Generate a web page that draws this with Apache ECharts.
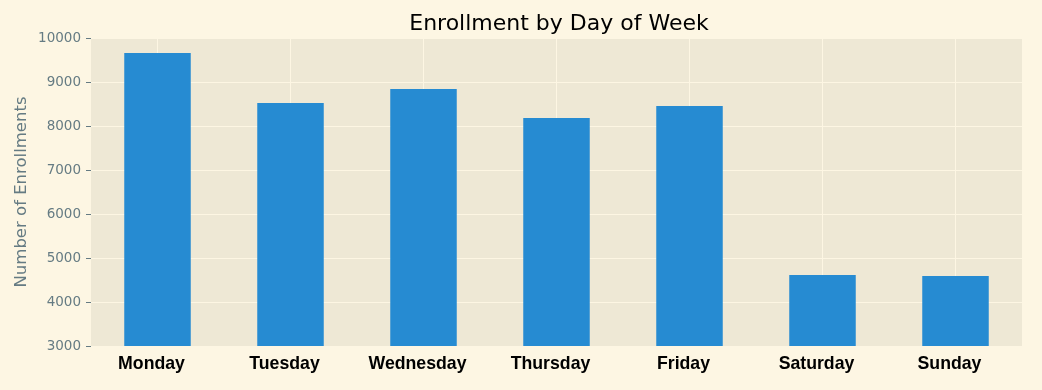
<!DOCTYPE html>
<html>
<head>
<meta charset="utf-8">
<script src="https://cdn.jsdelivr.net/npm/echarts@6/dist/echarts.min.js"></script>
<style>
html,body{margin:0;padding:0;background:#fdf6e3;}
#c{width:1042px;height:390px;}
</style>
</head>
<body>
<div id="c"></div>
<script>
const days = ['Monday','Tuesday','Wednesday','Thursday','Friday','Saturday','Sunday'];
const enrollments = [9660, 8520, 8840, 8180, 8455, 4615, 4590];
const yTicks = [3000, 4000, 5000, 6000, 7000, 8000, 9000, 10000];

const chart = echarts.init(document.getElementById('c'), null, {renderer:'canvas'});
chart.setOption({
  backgroundColor: '#fdf6e3',
  animation: false,
  title: {
    text: 'Enrollment by Day of Week',
    left: 554, top: 8, textAlign: 'center',
    textStyle: {fontFamily: 'DejaVu Sans', fontSize: 22, fontWeight: 'normal', color: '#000'}
  },
  grid: {left: 91, right: 20, top: 38, bottom: 44, show: true, backgroundColor: '#eee8d5', borderWidth: 0},
  xAxis: {
    type: 'category',
    data: days,
    axisLine: {show: false},
    axisTick: {show: false},
    axisLabel: {fontFamily: 'Liberation Sans', fontWeight: 'bold', fontSize: 17.7, color: '#000', margin: 9,
      padding: [0, 12, 0, 0]},
    splitLine: {show: true, alignWithLabel: true, lineStyle: {color: '#fdf6e3', width: 1}}
  },
  yAxis: {
    type: 'value',
    min: yTicks[0], max: yTicks[yTicks.length-1], interval: 1000,
    name: 'Number of Enrollments',
    nameLocation: 'middle', nameGap: 61, nameMoveOverlap: false,
    nameTextStyle: {fontFamily: 'DejaVu Sans', fontSize: 16.5, color: '#657b83'},
    axisLine: {show: false},
    axisTick: {show: true, length: 5, lineStyle: {color: '#657b83'}},
    axisLabel: {fontFamily: 'DejaVu Sans', fontSize: 13.5, color: '#657b83', margin: 10,
      formatter: function (v) { return String(v); }},
    splitLine: {show: true, lineStyle: {color: '#fdf6e3', width: 1}}
  },
  series: [{
    type: 'bar',
    data: enrollments,
    barWidth: '50%',
    itemStyle: {color: '#268bd2'}
  }]
});
</script>
</body>
</html>
